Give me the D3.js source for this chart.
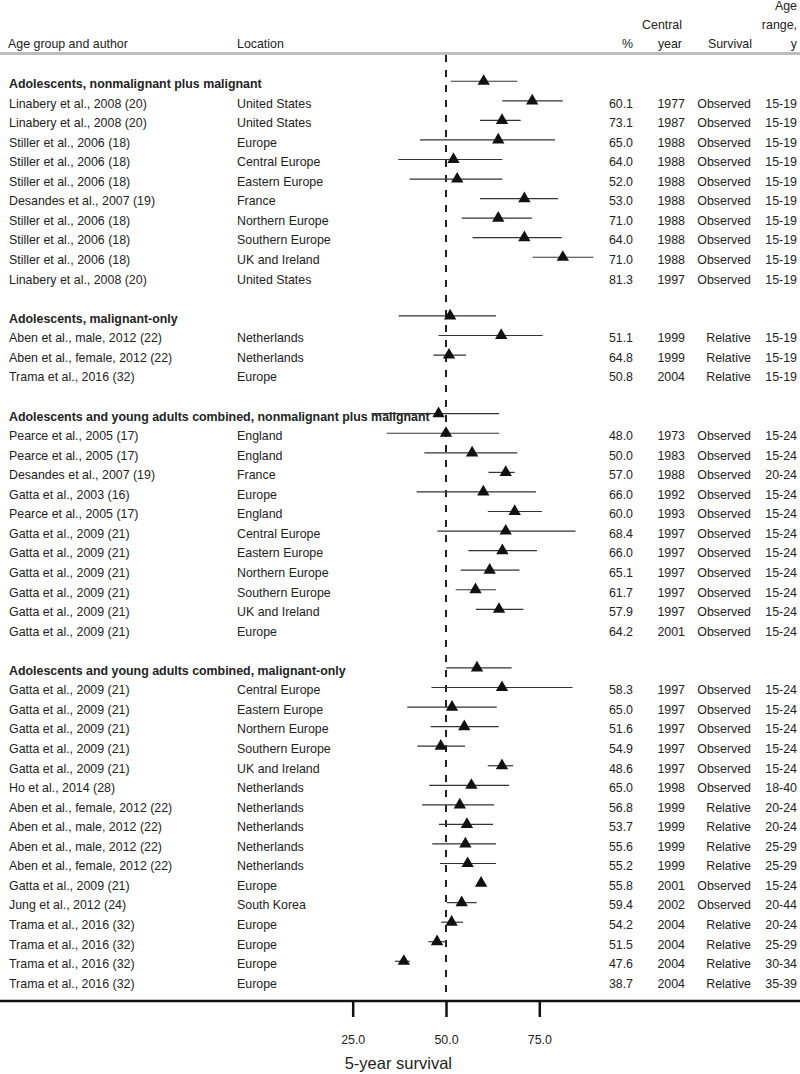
<!DOCTYPE html>
<html>
<head>
<meta charset="utf-8">
<script src="https://cdn.jsdelivr.net/npm/d3@7"></script>
<style>
  html, body { margin: 0; padding: 0; background: #fff; }
  svg text { font-family: "Liberation Sans", Arial, Helvetica, sans-serif; fill: #222; }
</style>
</head>
<body>
<svg id="chart" width="800" height="1074"></svg>
<script>
// ---------------- DATA ----------------
const sectionTitles = [
  "Adolescents, nonmalignant plus malignant",
  "Adolescents, malignant-only",
  "Adolescents and young adults combined, nonmalignant plus malignant",
  "Adolescents and young adults combined, malignant-only"
];
const sectionOf = [
  0,0,0,0,0,0,0,0,0,0,
  1,1,1,
  2,2,2,2,2,2,2,2,2,2,2,
  3,3,3,3,3,3,3,3,3,3,3,3,3,3,3,3
];
const authors = [
  "Linabery et al., 2008 (20)","Linabery et al., 2008 (20)","Stiller et al., 2006 (18)","Stiller et al., 2006 (18)",
  "Stiller et al., 2006 (18)","Desandes et al., 2007 (19)","Stiller et al., 2006 (18)","Stiller et al., 2006 (18)",
  "Stiller et al., 2006 (18)","Linabery et al., 2008 (20)",
  "Aben et al., male, 2012 (22)","Aben et al., female, 2012 (22)","Trama et al., 2016 (32)",
  "Pearce et al., 2005 (17)","Pearce et al., 2005 (17)","Desandes et al., 2007 (19)","Gatta et al., 2003 (16)",
  "Pearce et al., 2005 (17)","Gatta et al., 2009 (21)","Gatta et al., 2009 (21)","Gatta et al., 2009 (21)",
  "Gatta et al., 2009 (21)","Gatta et al., 2009 (21)","Gatta et al., 2009 (21)",
  "Gatta et al., 2009 (21)","Gatta et al., 2009 (21)","Gatta et al., 2009 (21)","Gatta et al., 2009 (21)",
  "Gatta et al., 2009 (21)","Ho et al., 2014 (28)","Aben et al., female, 2012 (22)","Aben et al., male, 2012 (22)",
  "Aben et al., male, 2012 (22)","Aben et al., female, 2012 (22)","Gatta et al., 2009 (21)","Jung et al., 2012 (24)",
  "Trama et al., 2016 (32)","Trama et al., 2016 (32)","Trama et al., 2016 (32)","Trama et al., 2016 (32)"
];
const locations = [
  "United States","United States","Europe","Central Europe","Eastern Europe","France","Northern Europe",
  "Southern Europe","UK and Ireland","United States",
  "Netherlands","Netherlands","Europe",
  "England","England","France","Europe","England","Central Europe","Eastern Europe","Northern Europe",
  "Southern Europe","UK and Ireland","Europe",
  "Central Europe","Eastern Europe","Northern Europe","Southern Europe","UK and Ireland","Netherlands",
  "Netherlands","Netherlands","Netherlands","Netherlands","Europe","South Korea","Europe","Europe","Europe","Europe"
];
const survivalPct = [
  60.1,73.1,65.0,64.0,52.0,53.0,71.0,64.0,71.0,81.3,
  51.1,64.8,50.8,
  48.0,50.0,57.0,66.0,60.0,68.4,66.0,65.1,61.7,57.9,64.2,
  58.3,65.0,51.6,54.9,48.6,65.0,56.8,53.7,55.6,55.2,55.8,59.4,54.2,51.5,47.6,38.7
];
const ciLower = [
  51.3,65.1,59.1,43.0,37.2,40.2,59.1,54.2,57.1,73.2,
  37.3,48.0,46.6,
  30.0,34.1,44.2,61.4,42.1,61.2,47.7,56.0,53.9,52.6,58.0,
  50.0,46.1,39.6,45.9,42.3,61.2,45.5,43.6,48.1,46.3,48.4,58.7,50.2,48.7,45.3,36.3
];
const ciUpper = [
  69.1,81.3,70.0,79.2,65.1,65.1,80.0,73.0,81.0,89.5,
  63.4,75.9,55.4,
  64.2,64.2,69.1,68.4,74.1,75.7,84.7,74.4,69.7,63.4,70.7,
  67.6,83.9,63.6,64.1,55.1,68.0,66.9,62.9,62.6,63.4,63.4,60.1,58.2,54.6,50.2,40.3
];
const centralYear = [
  1977,1987,1988,1988,1988,1988,1988,1988,1988,1997,
  1999,1999,2004,
  1973,1983,1988,1992,1993,1997,1997,1997,1997,1997,2001,
  1997,1997,1997,1997,1997,1998,1999,1999,1999,1999,2001,2002,2004,2004,2004,2004
];
const survivalType = [
  "Observed","Observed","Observed","Observed","Observed","Observed","Observed","Observed","Observed","Observed",
  "Relative","Relative","Relative",
  "Observed","Observed","Observed","Observed","Observed","Observed","Observed","Observed","Observed","Observed","Observed",
  "Observed","Observed","Observed","Observed","Observed","Observed","Relative","Relative","Relative","Relative",
  "Observed","Observed","Relative","Relative","Relative","Relative"
];
const ageRange = [
  "15-19","15-19","15-19","15-19","15-19","15-19","15-19","15-19","15-19","15-19",
  "15-19","15-19","15-19",
  "15-24","15-24","20-24","15-24","15-24","15-24","15-24","15-24","15-24","15-24","15-24",
  "15-24","15-24","15-24","15-24","15-24","18-40","20-24","20-24","25-29","25-29","15-24","20-44",
  "20-24","25-29","30-34","35-39"
];
const xTicks = [25, 50, 75];
const referenceValue = 50;

// ---------------- LAYOUT ----------------
const svg = d3.select("#chart");
const FONT = 12.4;

const rows = [];
let idx = 0;
sectionTitles.forEach((t, s) => {
  if (s > 0) idx++; // blank row
  rows.push({type: "header", text: t, row: idx++});
  sectionOf.forEach((sec, i) => {
    if (sec === s) rows.push({type: "data", i, row: idx++});
  });
});
const lastRow = idx - 1;

const x = d3.scaleLinear().domain([25, 75]).range([352.7, 539.3]);
const y = d3.scaleLinear().domain([0, lastRow]).range([83.7, 983.3]);
const markerShift = 22; // markers sit above their text row in the original

// column header
const hdr = svg.append("g").style("font-size", FONT + "px");
const hy = [6, 24.5, 43.5];
hdr.append("text").attr("x", 8).attr("y", hy[2]).attr("dy", "0.35em").text("Age group and author");
hdr.append("text").attr("x", 237).attr("y", hy[2]).attr("dy", "0.35em").text("Location");
hdr.append("text").attr("x", 633).attr("y", hy[2]).attr("dy", "0.35em").attr("text-anchor", "end").text("%");
hdr.append("text").attr("x", 682).attr("y", hy[1]).attr("dy", "0.35em").attr("text-anchor", "end").text("Central");
hdr.append("text").attr("x", 682).attr("y", hy[2]).attr("dy", "0.35em").attr("text-anchor", "end").text("year");
hdr.append("text").attr("x", 752).attr("y", hy[2]).attr("dy", "0.35em").attr("text-anchor", "end").text("Survival");
hdr.append("text").attr("x", 797).attr("y", hy[0]).attr("dy", "0.35em").attr("text-anchor", "end").text("Age");
hdr.append("text").attr("x", 797).attr("y", hy[1]).attr("dy", "0.35em").attr("text-anchor", "end").text("range,");
hdr.append("text").attr("x", 797).attr("y", hy[2]).attr("dy", "0.35em").attr("text-anchor", "end").text("y");

svg.append("line").attr("x1", 0).attr("x2", 800).attr("y1", 53.5).attr("y2", 53.5)
  .attr("stroke", "#bdbdbd").attr("stroke-width", 3);

// text rows
const tg = svg.append("g").style("font-size", FONT + "px");
rows.forEach(r => {
  const yy = y(r.row);
  if (r.type === "header") {
    tg.append("text").attr("x", 9).attr("y", yy).attr("dy", "0.35em")
      .style("font-weight", "bold").text(r.text);
  } else {
    const i = r.i;
    tg.append("text").attr("x", 9).attr("y", yy).attr("dy", "0.35em").text(authors[i]);
    tg.append("text").attr("x", 237).attr("y", yy).attr("dy", "0.35em").text(locations[i]);
    tg.append("text").attr("x", 633).attr("y", yy).attr("dy", "0.35em").attr("text-anchor", "end").text(d3.format(".1f")(survivalPct[i]));
    tg.append("text").attr("x", 685).attr("y", yy).attr("dy", "0.35em").attr("text-anchor", "end").text(centralYear[i]);
    tg.append("text").attr("x", 751).attr("y", yy).attr("dy", "0.35em").attr("text-anchor", "end").text(survivalType[i]);
    tg.append("text").attr("x", 797).attr("y", yy).attr("dy", "0.35em").attr("text-anchor", "end").text(ageRange[i]);
  }
});

// reference dashed line
svg.append("line").attr("x1", x(referenceValue)).attr("x2", x(referenceValue))
  .attr("y1", 55).attr("y2", 1000)
  .attr("stroke", "#222").attr("stroke-width", 2).attr("stroke-dasharray", "7,8");

// CIs and markers
const dataRows = rows.filter(r => r.type === "data");
const mg = svg.append("g");
mg.selectAll("line.ci").data(dataRows).join("line").attr("class", "ci")
  .attr("x1", d => x(ciLower[d.i])).attr("x2", d => x(ciUpper[d.i]))
  .attr("y1", d => y(d.row) - markerShift).attr("y2", d => y(d.row) - markerShift)
  .attr("stroke", "#333").attr("stroke-width", 1.2);
mg.selectAll("path.mk").data(dataRows).join("path").attr("class", "mk")
  .attr("d", d3.symbol(d3.symbolTriangle, 66))
  .attr("transform", d => `translate(${x(survivalPct[d.i])},${y(d.row) - markerShift})`)
  .attr("fill", "#111");

// axis
const axisY = 1001;
const ax = svg.append("g").attr("transform", `translate(0,${axisY})`)
  .call(d3.axisBottom(x).tickValues(xTicks).tickFormat(d3.format(".1f")).tickSize(16).tickPadding(18));
ax.select(".domain").remove();
ax.selectAll(".tick line").attr("stroke", "#111").attr("stroke-width", 2.5);
ax.selectAll(".tick text").style("font-size", FONT + "px").style("font-family", "Liberation Sans, Arial, sans-serif").attr("fill", "#222");
svg.append("line").attr("x1", 0).attr("x2", 800).attr("y1", axisY).attr("y2", axisY)
  .attr("stroke", "#111").attr("stroke-width", 2.5);

svg.append("text").attr("x", x(25) - 8).attr("y", 1063).attr("dy", "0.35em")
  .style("font-size", "16.5px").text("5-year survival");
</script>
</body>
</html>
